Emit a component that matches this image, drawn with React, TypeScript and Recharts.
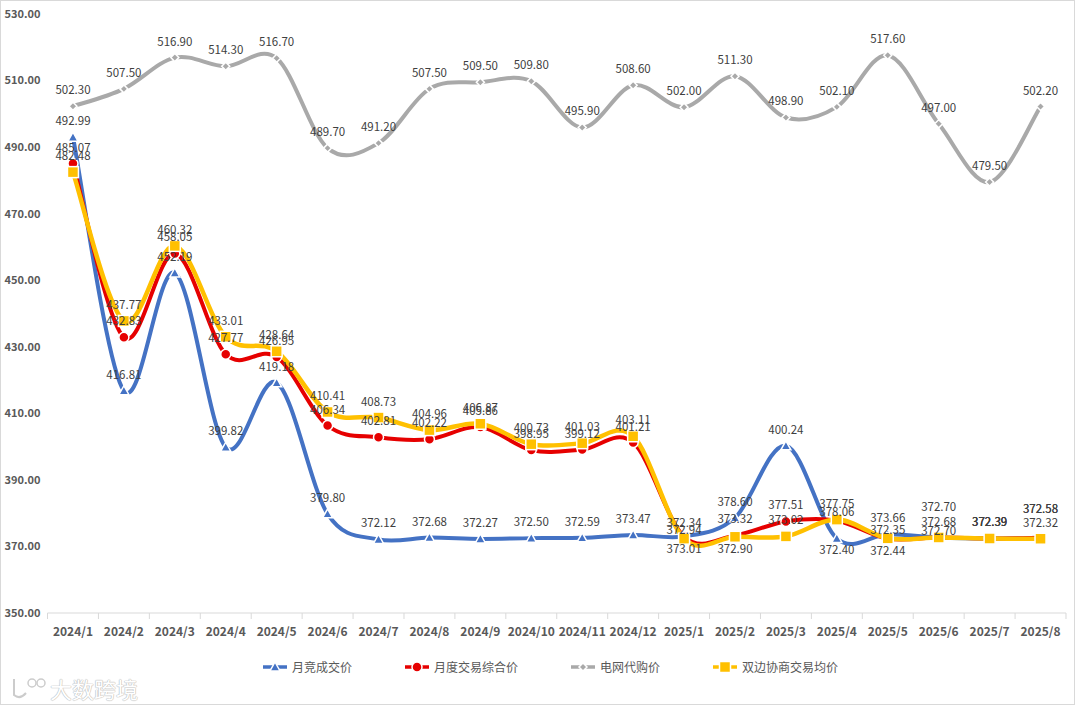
import React from "react";
import { LineChart, Line, XAxis, YAxis, LabelList } from "recharts";

const months = [
  "2024/1", "2024/2", "2024/3", "2024/4", "2024/5", "2024/6", "2024/7", "2024/8", "2024/9", "2024/10",
  "2024/11", "2024/12", "2025/1", "2025/2", "2025/3", "2025/4", "2025/5", "2025/6", "2025/7", "2025/8",
];

// 月竞成交价
const monthlyBid = [
  492.99, 416.81, 452.19, 399.82, 419.18, 379.8, 372.12, 372.68, 372.27, 372.5,
  372.59, 373.47, 373.01, 378.6, 400.24, 372.4, 373.66, 372.7, 372.39, 372.58,
];
// 月度交易综合价
const monthlyComposite = [
  485.07, 432.83, 458.05, 427.77, 426.95, 406.34, 402.81, 402.22, 405.86, 398.95,
  399.12, 401.21, 372.94, 373.32, 377.51, 377.75, 372.35, 372.68, 372.39, 372.58,
];
// 电网代购价
const gridAgency = [
  502.3, 507.5, 516.9, 514.3, 516.7, 489.7, 491.2, 507.5, 509.5, 509.8,
  495.9, 508.6, 502.0, 511.3, 498.9, 502.1, 517.6, 497.0, 479.5, 502.2,
];
// 双边协商交易均价
const bilateral = [
  482.48, 437.77, 460.32, 433.01, 428.64, 410.41, 408.73, 404.96, 406.87, 400.73,
  401.03, 403.11, 372.34, 372.9, 373.02, 378.06, 372.44, 372.7, 372.39, 372.32,
];

const yTicks = [350, 370, 390, 410, 430, 450, 470, 490, 510, 530];

const data = months.map((m, i) => ({
  month: m,
  bid: monthlyBid[i],
  composite: monthlyComposite[i],
  grid: gridAgency[i],
  bilateral: bilateral[i],
}));

const BLUE = "#4472C4";
const RED = "#E60000";
const GRAY = "#A9A9A9";
const YELLOW = "#FFC000";
const TEXT = "#595959";
const FONT = '"Noto Sans CJK SC", "Noto Sans", sans-serif';

// label offsets where labels of the four series crowd together
const labelShift: Record<string, Record<number, number>> = {
  bid: { 12: 12, 15: 11, 17: -31, 19: -30 },
  composite: { 12: -8, 15: -18, 16: -10, 19: -30 },
  grid: {},
  bilateral: { 13: 11, 15: -9, 16: 12, 17: -7 },
};

// Excel-like smoothing (cardinal spline through every point)
function smoothCurve(context: any) {
  let pts: [number, number][] = [];
  return {
    areaStart() {},
    areaEnd() {},
    lineStart() {
      pts = [];
    },
    point(x: number, y: number) {
      pts.push([+x, +y]);
    },
    lineEnd() {
      if (!pts.length) return;
      context.moveTo(pts[0][0], pts[0][1]);
      for (let i = 0; i < pts.length - 1; i++) {
        const p0 = pts[i - 1] || pts[i];
        const p1 = pts[i];
        const p2 = pts[i + 1];
        const p3 = pts[i + 2] || p2;
        context.bezierCurveTo(
          p1[0] + (p2[0] - p0[0]) / 6,
          p1[1] + (p2[1] - p0[1]) / 6,
          p2[0] - (p3[0] - p1[0]) / 6,
          p2[1] - (p3[1] - p1[1]) / 6,
          p2[0],
          p2[1]
        );
      }
    },
  };
}

function Marker({ shape, color, cx, cy }: { shape: string; color: string; cx: number; cy: number }) {
  if (cx == null || cy == null) return null;
  const sw = 1.5;
  if (shape === "triangle") {
    const s = 5;
    return (
      <path
        d={`M${cx},${cy - s} L${cx + s},${cy + s * 0.8} L${cx - s},${cy + s * 0.8} Z`}
        fill={color}
        stroke="#fff"
        strokeWidth={sw}
      />
    );
  }
  if (shape === "circle") {
    return <circle cx={cx} cy={cy} r={5} fill={color} stroke="#fff" strokeWidth={sw} />;
  }
  if (shape === "square") {
    return <rect x={cx - 5.5} y={cy - 5.5} width={11} height={11} fill={color} stroke="#fff" strokeWidth={sw} />;
  }
  const d = 4;
  return (
    <path
      d={`M${cx},${cy - d} L${cx + d},${cy} L${cx},${cy + d} L${cx - d},${cy} Z`}
      fill={color}
      stroke="#fff"
      strokeWidth={sw}
    />
  );
}

function makeDot(shape: string, color: string) {
  return (props: any) => (
    <Marker key={`${shape}-${props.index}`} shape={shape} color={color} cx={props.cx} cy={props.cy} />
  );
}

function makeLabel(key: string) {
  return (props: any) => {
    const { x, y, value, index } = props;
    const shift = labelShift[key][index] ?? -17;
    return (
      <text
        x={x}
        y={y + shift}
        textAnchor="middle"
        dominantBaseline="central"
        fontSize={11.5}
        fontFamily={FONT}
        fill="#404040"
      >
        {Number(value).toFixed(2)}
      </text>
    );
  };
}

function MonthTick(props: any) {
  const { x, y, payload, index, visibleTicksCount } = props;
  const half = 25.45;
  return (
    <g>
      <line x1={x - half} x2={x - half} y1={y} y2={y + 6} stroke="#D9D9D9" />
      {index === visibleTicksCount - 1 && (
        <line x1={x + half} x2={x + half} y1={y} y2={y + 6} stroke="#D9D9D9" />
      )}
      <text
        x={x}
        y={y + 17}
        textAnchor="middle"
        dominantBaseline="central"
        fontSize={12}
        fontWeight="bold"
        fontFamily={FONT}
        fill={TEXT}
      >
        {payload.value}
      </text>
    </g>
  );
}

const legendItems = [
  { name: "月竞成交价", color: BLUE, shape: "triangle" },
  { name: "月度交易综合价", color: RED, shape: "circle" },
  { name: "电网代购价", color: GRAY, shape: "diamond" },
  { name: "双边协商交易均价", color: YELLOW, shape: "square" },
];

function LegendBox() {
  return (
    <div
      style={{
        position: "absolute",
        left: 0,
        top: 658,
        width: 1080,
        display: "flex",
        justifyContent: "center",
        gap: 52,
        paddingLeft: 20,
        boxSizing: "border-box",
        fontFamily: FONT,
        fontSize: 12,
        color: TEXT,
      }}
    >
      {legendItems.map((it) => (
        <div key={it.name} style={{ display: "flex", alignItems: "center" }}>
          <svg width={26} height={12} style={{ marginRight: 4 }}>
            <line x1={1} x2={25} y1={6} y2={6} stroke={it.color} strokeWidth={3.5} />
            <Marker shape={it.shape} color={it.color} cx={13} cy={6} />
          </svg>
          <span>{it.name}</span>
        </div>
      ))}
    </div>
  );
}

function Watermark() {
  return (
    <div
      style={{
        position: "absolute",
        left: 10,
        top: 672,
        display: "flex",
        alignItems: "center",
        fontFamily: FONT,
        fontSize: 22,
        color: "#fff",
        textShadow: "0 0 1px #bbb, 0 0 1px #bbb, 0 0 1px #bbb",
      }}
    >
      <svg width={36} height={26} style={{ marginRight: 4 }}>
        <path d="M4 4 L4 20 Q10 25 16 18" fill="none" stroke="#ccc" strokeWidth={2} />
        <circle cx={22} cy={8} r={4} fill="none" stroke="#ccc" strokeWidth={1.5} />
        <circle cx={31} cy={8} r={4} fill="none" stroke="#ccc" strokeWidth={1.5} />
      </svg>
      <span>大数跨境</span>
    </div>
  );
}

export default function App() {
  return (
    <div
      style={{
        position: "fixed",
        left: 0,
        top: 0,
        width: 1080,
        height: 707,
        background: "#fff",
      }}
    >
      <div
        style={{
          position: "absolute",
          left: 0,
          top: 0,
          width: 1075,
          height: 705,
          border: "1px solid #D9D9D9",
          boxSizing: "border-box",
        }}
      />
      <LineChart width={1080} height={707} data={data} margin={{ top: 14, right: 14, left: 0, bottom: 66 }}>
        <XAxis
          dataKey="month"
          scale="band"
          height={28}
          interval={0}
          tickLine={false}
          tickSize={0}
          tickMargin={0}
          axisLine={{ stroke: "#D9D9D9" }}
          tick={<MonthTick />}
        />
        <YAxis
          width={47.5}
          domain={[350, 530]}
          ticks={yTicks}
          axisLine={false}
          tickLine={false}
          tickSize={0}
          tickMargin={7}
          tickFormatter={(v: number) => v.toFixed(2)}
          tick={{ fontSize: 11, fontWeight: "bold", fill: TEXT, fontFamily: FONT }}
        />
        <Line
          dataKey="bid"
          name="月竞成交价"
          type={smoothCurve as any}
          stroke={BLUE}
          strokeWidth={4}
          dot={makeDot("triangle", BLUE)}
          activeDot={false}
          isAnimationActive={false}
        >
          <LabelList dataKey="bid" content={makeLabel("bid")} />
        </Line>
        <Line
          dataKey="composite"
          name="月度交易综合价"
          type={smoothCurve as any}
          stroke={RED}
          strokeWidth={4}
          dot={makeDot("circle", RED)}
          activeDot={false}
          isAnimationActive={false}
        >
          <LabelList dataKey="composite" content={makeLabel("composite")} />
        </Line>
        <Line
          dataKey="grid"
          name="电网代购价"
          type={smoothCurve as any}
          stroke={GRAY}
          strokeWidth={4}
          dot={makeDot("diamond", GRAY)}
          activeDot={false}
          isAnimationActive={false}
        >
          <LabelList dataKey="grid" content={makeLabel("grid")} />
        </Line>
        <Line
          dataKey="bilateral"
          name="双边协商交易均价"
          type={smoothCurve as any}
          stroke={YELLOW}
          strokeWidth={4.5}
          dot={makeDot("square", YELLOW)}
          activeDot={false}
          isAnimationActive={false}
        >
          <LabelList dataKey="bilateral" content={makeLabel("bilateral")} />
        </Line>
      </LineChart>
      <LegendBox />
      <Watermark />
    </div>
  );
}
